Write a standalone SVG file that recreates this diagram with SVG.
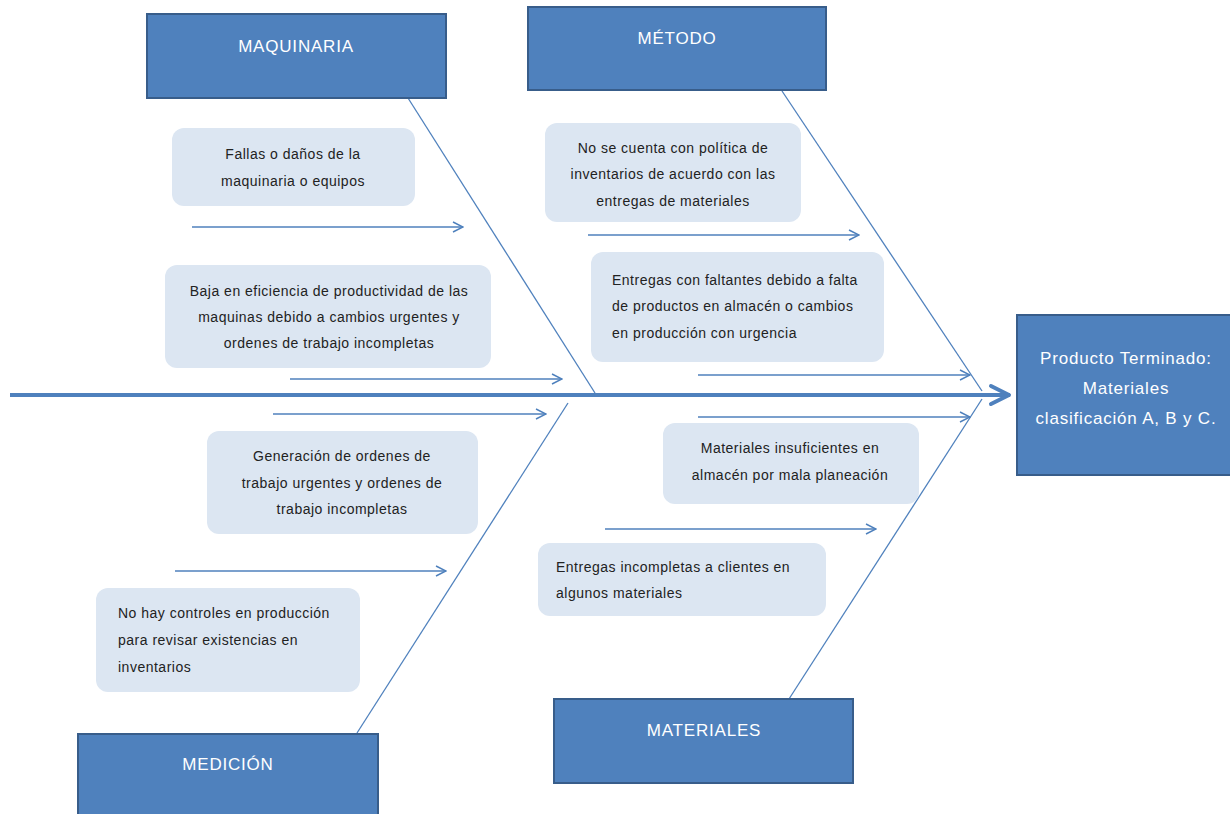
<svg xmlns="http://www.w3.org/2000/svg" width="1230" height="814" viewBox="0 0 1230 814">
<defs>
<marker id="ah" viewBox="0 0 12 12" refX="11" refY="6" markerWidth="12" markerHeight="12" markerUnits="userSpaceOnUse" orient="auto">
<path d="M1,1 L11,6 L1,11" fill="none" stroke="#4f81bd" stroke-width="1.5"/>
</marker>
<marker id="ahb" viewBox="0 0 24 24" refX="22" refY="12" markerWidth="24" markerHeight="24" markerUnits="userSpaceOnUse" orient="auto">
<path d="M3,3 L21,12 L3,21" fill="none" stroke="#4f81bd" stroke-width="4" stroke-linecap="round" stroke-linejoin="round"/>
</marker>
</defs>
<style>
.hdr{fill:#4f81bd;stroke:#385d8a;stroke-width:2}
.ht{fill:#fff;font-family:"Liberation Sans",Arial,sans-serif;font-size:17px;letter-spacing:0.8px;text-anchor:middle}
.cb{fill:#dce6f2}
.ct{fill:#222;font-family:"Liberation Sans",Arial,sans-serif;font-size:14px;letter-spacing:0.5px}
.c{text-anchor:middle}
.bone{stroke:#4f81bd;stroke-width:1.3;fill:none}
.arr{stroke:#4f81bd;stroke-width:1.5;fill:none;marker-end:url(#ah)}
</style>
<rect width="1230" height="814" fill="#fff"/>
<g id="connectors">
<line x1="10" y1="395" x2="1010" y2="395" stroke="#4f81bd" stroke-width="4" marker-end="url(#ahb)"/>
<line class="bone" x1="408" y1="98" x2="595" y2="393"/>
<line class="bone" x1="782" y1="91" x2="982" y2="391"/>
<line class="bone" x1="568" y1="403" x2="357" y2="733"/>
<line class="bone" x1="982" y1="399" x2="789" y2="699"/>
<line class="arr" x1="192" y1="227" x2="463" y2="227"/>
<line class="arr" x1="290" y1="379" x2="562" y2="379"/>
<line class="arr" x1="588" y1="235" x2="859" y2="235"/>
<line class="arr" x1="698" y1="375" x2="970" y2="375"/>
<line class="arr" x1="273" y1="414" x2="546" y2="414"/>
<line class="arr" x1="698" y1="417" x2="970" y2="417"/>
<line class="arr" x1="605" y1="529" x2="876" y2="529"/>
<line class="arr" x1="175" y1="571" x2="446" y2="571"/>
</g>
<g id="maquinaria"><rect class="hdr" x="147" y="14" width="299" height="84"/><text class="ht" x="296" y="52">MAQUINARIA</text></g>
<g id="metodo"><rect class="hdr" x="528" y="7" width="298" height="83"/><text class="ht" x="677" y="44">MÉTODO</text></g>
<g id="producto"><rect class="hdr" x="1017" y="315" width="216" height="160"/>
<text class="ht" x="1126" y="364">Producto Terminado:</text>
<text class="ht" x="1126" y="394">Materiales</text>
<text class="ht" x="1126" y="424">clasificación A, B y C.</text></g>
<g id="medicion"><rect class="hdr" x="78" y="734" width="300" height="90"/><text class="ht" x="228" y="770">MEDICIÓN</text></g>
<g id="materiales"><rect class="hdr" x="554" y="699" width="299" height="84"/><text class="ht" x="704" y="736">MATERIALES</text></g>
<g id="c1"><rect class="cb" x="172" y="128" width="243" height="78" rx="12"/>
<text class="ct c" x="293" y="159">Fallas o daños de la</text>
<text class="ct c" x="293" y="186">maquinaria o equipos</text></g>
<g id="c2"><rect class="cb" x="165" y="265" width="326" height="103" rx="12"/>
<text class="ct c" x="329" y="296">Baja en eficiencia de productividad de las</text>
<text class="ct c" x="329" y="322">maquinas debido a cambios urgentes y</text>
<text class="ct c" x="329" y="348">ordenes de trabajo incompletas</text></g>
<g id="c3"><rect class="cb" x="545" y="123" width="256" height="99" rx="12"/>
<text class="ct c" x="673" y="153">No se cuenta con política de</text>
<text class="ct c" x="673" y="179">inventarios de acuerdo con las</text>
<text class="ct c" x="673" y="206">entregas de materiales</text></g>
<g id="c4"><rect class="cb" x="591" y="252" width="293" height="110" rx="12"/>
<text class="ct" x="612" y="285">Entregas con faltantes debido a falta</text>
<text class="ct" x="612" y="311">de productos en almacén o cambios</text>
<text class="ct" x="612" y="338">en producción con urgencia</text></g>
<g id="c5"><rect class="cb" x="207" y="431" width="271" height="103" rx="12"/>
<text class="ct c" x="342" y="461">Generación de ordenes de</text>
<text class="ct c" x="342" y="488">trabajo urgentes y ordenes de</text>
<text class="ct c" x="342" y="514">trabajo incompletas</text></g>
<g id="c6"><rect class="cb" x="96" y="588" width="264" height="104" rx="12"/>
<text class="ct" x="118" y="618">No hay controles en producción</text>
<text class="ct" x="118" y="645">para revisar existencias en</text>
<text class="ct" x="118" y="672">inventarios</text></g>
<g id="c7"><rect class="cb" x="663" y="423" width="256" height="81" rx="12"/>
<text class="ct c" x="790" y="453">Materiales insuficientes  en</text>
<text class="ct c" x="790" y="480">almacén por mala planeación</text></g>
<g id="c8"><rect class="cb" x="538" y="543" width="288" height="73" rx="12"/>
<text class="ct" x="556" y="572">Entregas incompletas  a clientes  en</text>
<text class="ct" x="556" y="598">algunos materiales</text></g>
</svg>
